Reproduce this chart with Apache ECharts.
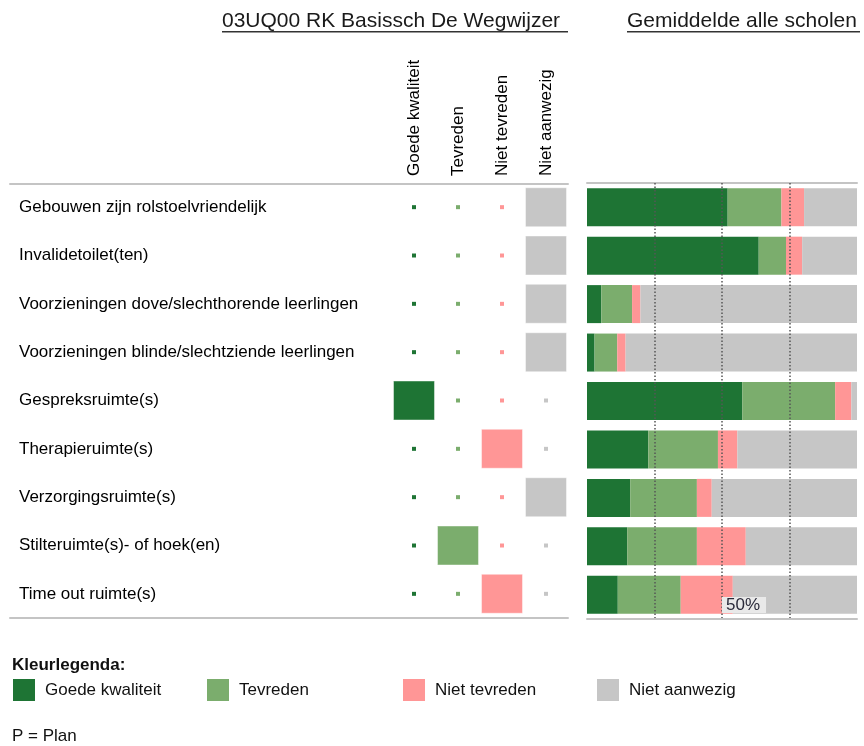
<!DOCTYPE html>
<html lang="nl">
<head>
    <meta charset="UTF-8">
    <title>Voorzieningen</title>
    <script src="https://cdn.jsdelivr.net/npm/echarts@6/dist/echarts.min.js"></script>
    <style>
        html, body { margin: 0; padding: 0; background: #fff; }
    </style>
</head>
<body>
    <div id="main" style="width: 864px;height:746px;"></div>

    <script type="text/javascript">
        const font = 'Liberation Sans, Arial, sans-serif'
        const color = ['#1e7434', '#7bad6d', '#ff9696', '#c6c6c6']

        // antwoordcategorieen
        const answers = ['Goede kwaliteit', 'Tevreden', 'Niet tevreden', 'Niet aanwezig']
        // rijen
        const items = [
            'Gebouwen zijn rolstoelvriendelijk',
            'Invalidetoilet(ten)',
            'Voorzieningen dove/slechthorende leerlingen',
            'Voorzieningen blinde/slechtziende leerlingen',
            'Gespreksruimte(s)',
            'Therapieruimte(s)',
            'Verzorgingsruimte(s)',
            'Stilteruimte(s)- of hoek(en)',
            'Time out ruimte(s)'
        ]
        // antwoord van de school (index in answers)
        const schoolAnswer = [3, 3, 3, 3, 0, 2, 3, 1, 2]

        // gemiddelde alle scholen (%)
        const goede = [52.1, 63.6, 5.3, 2.8, 57.5, 22.7, 16.0, 14.9, 11.4]
        const tevreden = [19.9, 10.1, 11.4, 8.4, 34.4, 25.8, 24.7, 25.8, 23.3]
        const nietTevreden = [8.4, 6.0, 3.1, 3.1, 6.0, 7.2, 5.5, 18.1, 19.3]
        const nietAanwezig = [19.6, 20.3, 80.2, 85.7, 2.1, 44.3, 53.8, 41.2, 46.0]
        const avgData = [goede, tevreden, nietTevreden, nietAanwezig]

        const ticks = [0, 25, 50, 75, 100]
        const shownTick = 50

        // legenda posities (links)
        const legendLeft = [13, 207, 403, 597]

        var myChart = echarts.init(document.getElementById('main'));

        // kleine stip of groot blok per cel
        const scatterSeries = answers.map((name, c) => ({
            name: name,
            type: 'scatter',
            xAxisIndex: 0,
            yAxisIndex: 0,
            symbol: 'rect',
            silent: true,
            itemStyle: { color: color[c], opacity: 1, borderColor: 'rgba(255,255,255,0.45)', borderWidth: 1 },
            data: items.map((item, i) => ({
                value: [c, i],
                symbolSize: schoolAnswer[i] === c ? [41, 39] : 4,
                itemStyle: schoolAnswer[i] === c ? {} : { borderWidth: 0 }
            }))
        }))

        const barSeries = answers.map((name, c) => ({
            name: name,
            type: 'bar',
            stack: 'avg',
            xAxisIndex: 1,
            yAxisIndex: 1,
            barWidth: 38,
            silent: true,
            itemStyle: { color: color[c] },
            data: avgData[c]
        }))

        const legends = answers.map((name, c) => ({
            data: [name],
            left: legendLeft[c],
            top: 679,
            padding: 0,
            icon: 'rect',
            itemWidth: 22,
            itemHeight: 22,
            selectedMode: false,
            textStyle: { fontSize: 17, color: '#111', padding: [0, 0, 0, 5], fontFamily: font }
        }))

        const lineStyle = { color: '#c4c4c4', width: 2 }
        const titleStyle = { fontSize: 21, fontWeight: 'normal', color: '#1a1a1a', fontFamily: font }

        var option = {
            animation: false,
            textStyle: { fontFamily: font },
            title: [
                { text: '03UQ00 RK Basissch De Wegwijzer', left: 222, top: 11, padding: 0, textStyle: titleStyle },
                { text: 'Gemiddelde alle scholen', left: 627, top: 11, padding: 0, textStyle: titleStyle },
                { text: 'Kleurlegenda:', left: 12, top: 657, padding: 0,
                  textStyle: { fontSize: 17, fontWeight: 'bold', color: '#111', fontFamily: font } },
                { text: 'P = Plan', left: 12, top: 728, padding: 0,
                  textStyle: { fontSize: 17, fontWeight: 'normal', color: '#111', fontFamily: font } }
            ],
            graphic: [
                // onderstreping titels
                { type: 'rect', left: 222, top: 31, shape: { width: 346, height: 1.5 }, style: { fill: '#333' } },
                { type: 'rect', left: 627, top: 31, shape: { width: 233, height: 1.5 }, style: { fill: '#333' } }
            ],
            legend: legends,
            grid: [
                { left: 392, width: 176, top: 183, height: 435, outerBoundsMode: 'none' },
                { left: 587, width: 270, top: 183, height: 436, outerBoundsMode: 'none' },
                { left: 10, width: 558, top: 184, height: 434, outerBoundsMode: 'none' }
            ],
            xAxis: [
                {
                    gridIndex: 0,
                    type: 'category',
                    position: 'top',
                    data: answers,
                    axisLine: { show: false },
                    axisTick: { show: false },
                    axisLabel: { rotate: -90, margin: 7, fontSize: 17, color: '#000', fontFamily: font, interval: 0 }
                },
                {
                    gridIndex: 1,
                    type: 'value',
                    min: ticks[0],
                    max: ticks[ticks.length - 1],
                    interval: ticks[1] - ticks[0],
                    position: 'bottom',
                    z: 10,
                    axisLine: { show: true, lineStyle: lineStyle },
                    axisTick: { show: false },
                    axisLabel: {
                        inside: true,
                        margin: 6,
                        align: 'left',
                        fontSize: 17,
                        color: '#2a2a3a',
                        lineHeight: 16,
                        backgroundColor: '#e9e9e9',
                        padding: [0, 6, 0, 4],
                        fontFamily: font,
                        formatter: v => v === shownTick ? v + '%' : ''
                    },
                    splitLine: {
                        show: true,
                        showMinLine: false,
                        showMaxLine: false,
                        lineStyle: { color: '#555', width: 1.5, type: [1.5, 2] }
                    }
                },
                {
                    gridIndex: 1,
                    type: 'value',
                    min: 0,
                    max: 100,
                    position: 'top',
                    axisLine: { show: true, lineStyle: lineStyle },
                    axisTick: { show: false },
                    axisLabel: { show: false },
                    splitLine: { show: false }
                },
                {
                    gridIndex: 2,
                    type: 'category',
                    data: [''],
                    position: 'top',
                    axisLine: { show: true, lineStyle: lineStyle },
                    axisTick: { show: false },
                    axisLabel: { show: false }
                },
                {
                    gridIndex: 2,
                    type: 'category',
                    data: [''],
                    position: 'bottom',
                    axisLine: { show: true, lineStyle: lineStyle },
                    axisTick: { show: false },
                    axisLabel: { show: false }
                }
            ],
            yAxis: [
                {
                    gridIndex: 0,
                    type: 'category',
                    inverse: true,
                    data: items,
                    axisLine: { show: false },
                    axisTick: { show: false },
                    axisLabel: { align: 'left', margin: 373, fontSize: 17, color: '#000', fontFamily: font, interval: 0 }
                },
                {
                    gridIndex: 1,
                    type: 'category',
                    inverse: true,
                    data: items,
                    show: false
                },
                {
                    gridIndex: 2,
                    type: 'category',
                    data: [''],
                    show: false
                }
            ],
            series: [...barSeries, ...scatterSeries]
        };

        myChart.setOption(option);
    </script>
</body>
</html>
